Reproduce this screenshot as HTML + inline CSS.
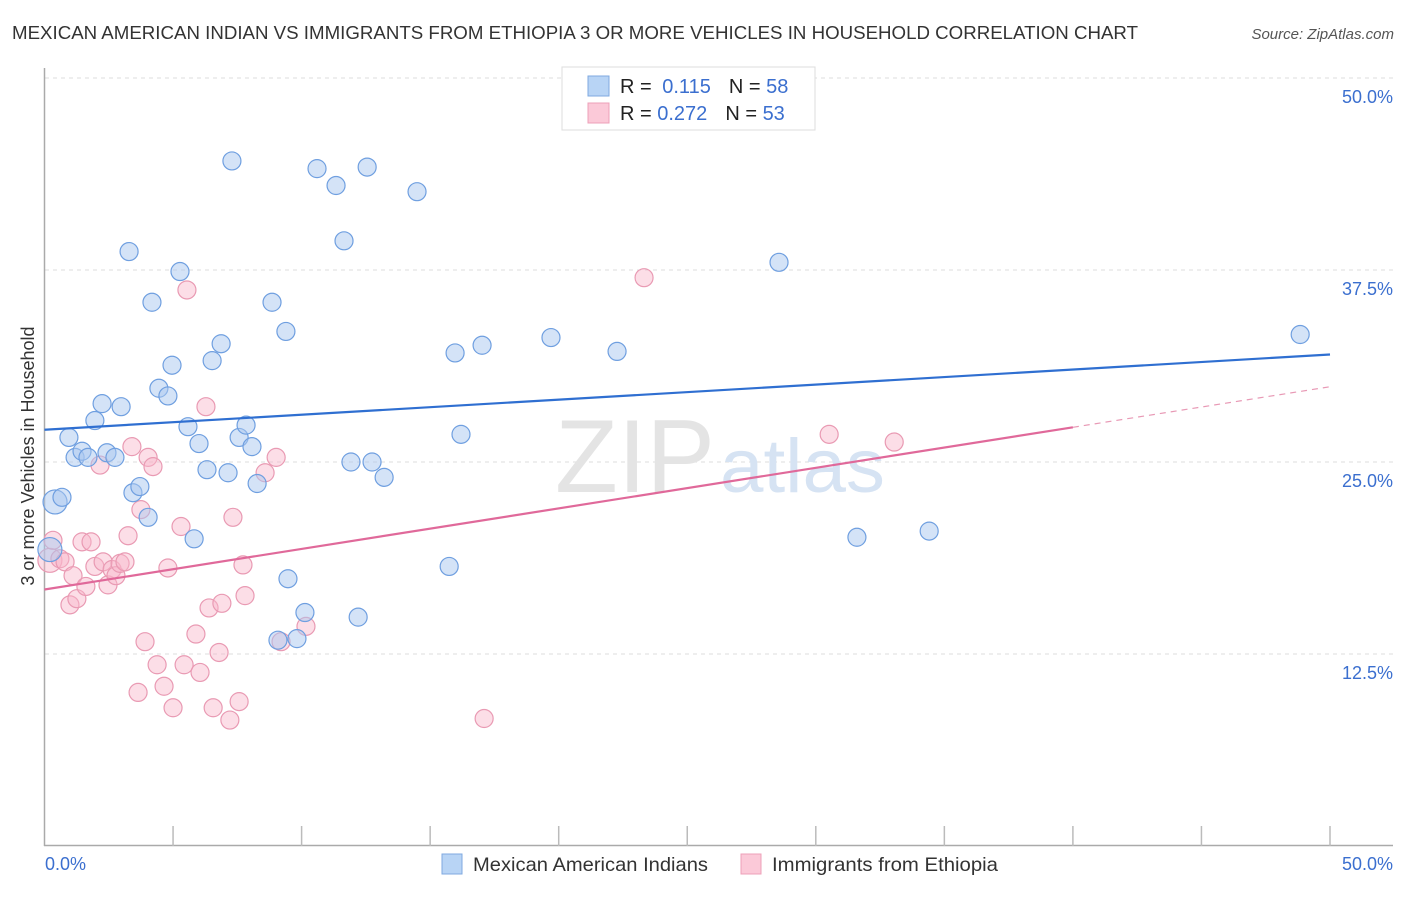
<!DOCTYPE html>
<html><head><meta charset="utf-8"><style>
body{margin:0;background:#fff;font-family:"Liberation Sans",sans-serif}
svg text{font-family:"Liberation Sans",sans-serif}
</style></head><body>
<svg id="chart" width="1406" height="892" viewBox="0 0 1406 892" xmlns="http://www.w3.org/2000/svg">
<text x="12" y="39" font-size="18.5" fill="#333" textLength="1126" lengthAdjust="spacingAndGlyphs">MEXICAN AMERICAN INDIAN VS IMMIGRANTS FROM ETHIOPIA 3 OR MORE VEHICLES IN HOUSEHOLD CORRELATION CHART</text>
<text x="1394" y="39" font-size="15" fill="#555" font-style="italic" text-anchor="end">Source: ZipAtlas.com</text>
<g id="grid"></g>
<g><text x="555" y="492" font-size="104" font-family="Liberation Serif" fill="#e4e4e4" textLength="160" lengthAdjust="spacingAndGlyphs">ZIP</text><text x="720" y="492" font-size="76" fill="#d6e3f3" textLength="165" lengthAdjust="spacingAndGlyphs">atlas</text></g>
<g id="axes"></g>
<g id="pts"></g>
<g id="trends"></g>
<text transform="translate(34,456) rotate(-90)" font-size="18" fill="#333" text-anchor="middle">3 or more Vehicles in Household</text>
<g>
<rect x="562" y="67" width="253" height="63" fill="#fff" stroke="#ddd"/>
<rect x="588" y="76" width="21" height="20" fill="#b8d4f5" stroke="#7fa9e0"/>
<rect x="588" y="103" width="21" height="20" fill="#fbc9d8" stroke="#eea0b8"/>
<text x="620" y="93" font-size="20" fill="#222">R = <tspan fill="#3b6fcf" dx="5">0.115</tspan><tspan dx="18" fill="#222">N = </tspan><tspan fill="#3b6fcf">58</tspan></text>
<text x="620" y="120" font-size="20" fill="#222">R = <tspan fill="#3b6fcf">0.272</tspan><tspan dx="18" fill="#222">N = </tspan><tspan fill="#3b6fcf">53</tspan></text>
</g>
<g>
<rect x="442" y="854" width="20" height="20" fill="#b8d4f5" stroke="#7fa9e0"/>
<text x="473" y="871" font-size="19.5" fill="#333" textLength="235" lengthAdjust="spacingAndGlyphs">Mexican American Indians</text>
<rect x="741" y="854" width="20" height="20" fill="#fbc9d8" stroke="#eea0b8"/>
<text x="772" y="871" font-size="19.5" fill="#333" textLength="226" lengthAdjust="spacingAndGlyphs">Immigrants from Ethiopia</text>
</g>
</svg>
<script>
const blueX=[0.41,0.68,0.95,1.19,1.46,1.69,1.96,2.24,2.43,2.74,2.98,3.29,3.44,3.71,4.03,4.18,4.45,4.80,4.96,5.27,5.58,5.82,6.01,6.32,6.52,6.87,7.14,7.29,7.57,7.84,8.07,8.27,8.85,9.08,9.39,9.47,9.82,10.13,10.60,11.34,11.65,11.92,12.20,12.55,12.74,13.21,14.49,15.74,15.97,16.20,17.02,19.70,22.27,28.57,31.60,34.41,48.84,0.21];
const blueY=[22.4,22.7,26.6,25.3,25.7,25.3,27.7,28.8,25.6,25.3,28.6,38.7,23.0,23.4,21.4,35.4,29.8,29.3,31.3,37.4,27.3,20.0,26.2,24.5,31.6,32.7,24.3,44.6,26.6,27.4,26.0,23.6,35.4,13.4,33.5,17.4,13.5,15.2,44.1,43.0,39.4,25.0,14.9,44.2,25.0,24.0,42.6,18.2,32.1,26.8,32.6,33.1,32.2,38.0,20.1,20.5,33.3,19.3];
const pinkX=[0.21,0.33,0.60,0.80,0.99,1.11,1.26,1.46,1.61,1.81,1.96,2.16,2.28,2.47,2.63,2.78,2.94,3.13,3.25,3.40,3.64,3.75,3.91,4.03,4.22,4.38,4.65,4.80,5.00,5.31,5.43,5.54,5.89,6.05,6.28,6.40,6.56,6.79,6.90,7.21,7.33,7.57,7.72,7.80,8.58,9.01,9.20,10.17,17.10,23.32,30.52,33.05];
const pinkY=[18.6,19.9,18.7,18.5,15.7,17.6,16.1,19.8,16.9,19.8,18.2,24.8,18.5,17.0,18.0,17.6,18.4,18.5,20.2,26.0,10.0,21.9,13.3,25.3,24.7,11.8,10.4,18.1,9.0,20.8,11.8,36.2,13.8,11.3,28.6,15.5,9.0,12.6,15.8,8.2,21.4,9.4,18.3,16.3,24.3,25.3,13.3,14.3,8.3,37.0,26.8,26.3];
const bigBlue=[0,57], bigPink=[0];
const yTicks=[12.5,25,37.5,50];
const yTickLabels=["12.5%","25.0%","37.5%","50.0%"];
const xTicks=[0,5,10,15,20,25,30,35,40,45,50];
const blueTrend=[27.1,32.0];
const pinkTrend=[16.7,29.9];
const pinkSolidEnd=40;

const NS="http://www.w3.org/2000/svg";
const X=v=>44.5+v/50*1285.5;
const Y=v=>846-v/12.5*192;
function mk(tag,attrs,parent){const e=document.createElementNS(NS,tag);for(const k in attrs)e.setAttribute(k,attrs[k]);parent.appendChild(e);return e;}
const grid=document.getElementById('grid'),axes=document.getElementById('axes'),pts=document.getElementById('pts'),tr=document.getElementById('trends');
yTicks.forEach((t,i)=>{
 const l=mk('line',{x1:45,x2:1393,y1:Y(t),y2:Y(t),stroke:'#ddd','stroke-dasharray':'4,4'},grid);
 
 
 const tx=mk('text',{x:1393,y:Y(t)+25,'font-size':18,fill:'#3b6fcf','text-anchor':'end'},grid);
 tx.textContent=yTickLabels[i];
 
 
});
mk('line',{x1:44.5,x2:44.5,y1:68,y2:846,stroke:'#aaa','stroke-width':1.5},axes);
mk('line',{x1:44,x2:1393,y1:845.5,y2:845.5,stroke:'#aaa','stroke-width':1.5},axes);
xTicks.slice(1).forEach(t=>{
 const l=mk('line',{x1:X(t),x2:X(t),y1:826,y2:846,stroke:'#bbb','stroke-width':1.5},axes);
 
 
});
const x0=mk('text',{x:45,y:870,'font-size':18,fill:'#3b6fcf'},axes);x0.textContent='0.0%';

const x1=mk('text',{x:1393,y:870,'font-size':18,fill:'#3b6fcf','text-anchor':'end'},axes);x1.textContent='50.0%';


function dots(xs,ys,big,fill,stroke,name){
 xs.forEach((x,i)=>{
  const c=mk('circle',{cx:X(x),cy:Y(ys[i]),r:big.includes(i)?12:9,fill:fill,stroke:stroke,'stroke-width':1.2},pts);
  
  
 });
}
dots(pinkX,pinkY,bigPink,'rgba(248,182,202,0.45)','#e99ab3','point-ethiopia');
dots(blueX,blueY,bigBlue,'rgba(170,200,240,0.5)','#6f9fe0','point-mexican');

const bl=mk('line',{x1:X(0),y1:Y(blueTrend[0]),x2:X(50),y2:Y(blueTrend[1]),stroke:'#2f6fd1','stroke-width':2.2},tr);

const pe=pinkTrend[0]+(pinkTrend[1]-pinkTrend[0])*pinkSolidEnd/50;
const pl=mk('line',{x1:X(0),y1:Y(pinkTrend[0]),x2:X(pinkSolidEnd),y2:Y(pe),stroke:'#e0699a','stroke-width':2.2},tr);

const pd=mk('line',{x1:X(pinkSolidEnd),y1:Y(pe),x2:X(50),y2:Y(pinkTrend[1]),stroke:'#e899b5','stroke-width':1.2,'stroke-dasharray':'6,5'},tr);

</script>
</body></html>
